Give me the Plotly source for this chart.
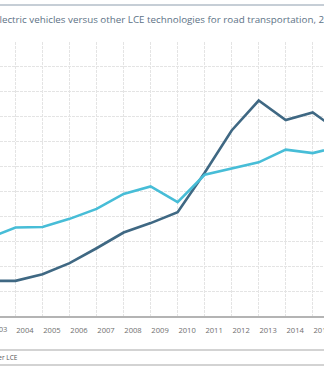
import plotly.graph_objects as go

years = list(range(2003, 2017))
electric_vehicles = [14.1, 14.1, 16.8, 21.2, 27.2, 33.5, 37.3, 41.7, 57.5, 74.5, 86.5, 78.7, 81.7, 74.0]
other_lce = [31.2, 35.5, 35.7, 39.0, 43.0, 49.0, 52.0, 45.7, 56.7, 59.1, 61.7, 66.8, 65.4, 68.0]
tick_years = list(range(2004, 2016))
tick_labels = [str(y) for y in tick_years]

title_text = "Electric vehicles versus other LCE technologies for road transportation, 2003–2016"

fig = go.Figure()
fig.add_trace(go.Scatter(x=years, y=electric_vehicles, mode="lines", name="Electric vehicles",
                         line=dict(color="#3f6883", width=2.6), showlegend=False))
fig.add_trace(go.Scatter(x=years, y=other_lce, mode="lines", name="Other LCE",
                         line=dict(color="#47bdd7", width=2.6), showlegend=False))

fig.update_layout(
    width=324, height=383,
    margin=dict(l=0, r=0, t=42, b=67),
    paper_bgcolor="white", plot_bgcolor="white",
    font=dict(family="Open Sans", size=8, color="#6f6f6f"),
    xaxis=dict(range=[2003.426, 2015.417], tickmode="array", tickvals=tick_years, ticktext=tick_labels,
               automargin=False,
               showgrid=True, gridcolor="#e4e4e4", gridwidth=1, griddash="3px,1px",
               showline=True, linecolor="#b4b4b4", linewidth=1.5, ticks="",
               ticklabelposition="outside right", ticklabelstandoff=6,
               ticklabeloverflow="allow", zeroline=False,
               tickfont=dict(size=7.6, color="#6f6f6f")),
    yaxis=dict(range=[0, 110], dtick=10, showgrid=True, gridcolor="#e4e4e4", gridwidth=1,
               automargin=False,
               griddash="3px,1px", showticklabels=False, zeroline=False, ticks=""),
    shapes=[
        dict(type="line", xref="paper", yref="paper", x0=0, x1=1, y0=1.135, y1=1.135,
             line=dict(color="#b3bec9", width=1.5)),
        dict(type="line", xref="paper", yref="paper", x0=0, x1=1, y0=-0.124, y1=-0.124,
             line=dict(color="#c4c4c4", width=1.5)),
        dict(type="line", xref="paper", yref="paper", x0=0, x1=1, y0=-0.179, y1=-0.179,
             line=dict(color="#c4c4c4", width=1.5)),
    ],
    annotations=[
        dict(text=title_text, xref="paper", yref="paper", x=0, xshift=-8, y=1, yshift=23,
             xanchor="left", yanchor="middle", showarrow=False,
             font=dict(family="Open Sans", size=9.8, color="#5d7286")),
        dict(text="2003", xref="paper", yref="paper", x=0, xshift=-11.5, y=0, yshift=-13,
             xanchor="left", yanchor="middle", showarrow=False, borderpad=0,
             font=dict(size=7.6, color="#6f6f6f")),
        dict(text="Other LCE", xref="paper", yref="paper", x=0, xshift=19, y=0, yshift=-41,
             xanchor="right", yanchor="middle", showarrow=False, borderpad=0,
             font=dict(size=6.5, color="#555555")),
    ],
)

fig.write_html("out.html")
